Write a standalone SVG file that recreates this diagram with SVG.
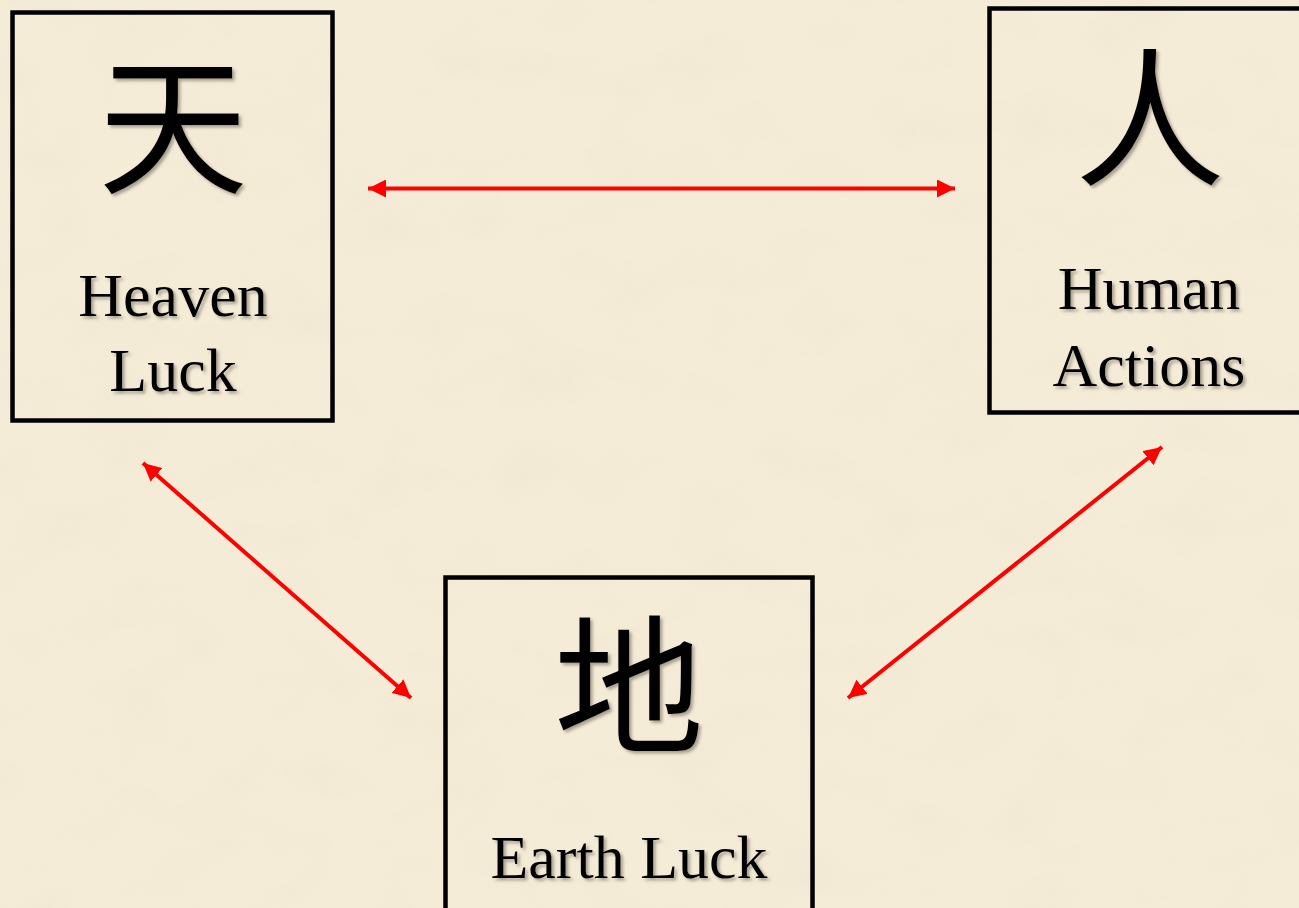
<svg xmlns="http://www.w3.org/2000/svg" width="1299" height="908" viewBox="0 0 1299 908">
  <defs>
    <filter id="paper" x="0" y="0" width="100%" height="100%">
      <feTurbulence type="fractalNoise" baseFrequency="0.012 0.02" numOctaves="4" seed="7" result="n"/>
      <feColorMatrix in="n" type="matrix" values="0 0 0 0 0.80  0 0 0 0 0.72  0 0 0 0 0.55  0 0 0 1.1 -0.45" result="c"/>
      <feComposite in="c" in2="SourceGraphic" operator="in"/>
    </filter>
    <filter id="shadow" x="-10%" y="-10%" width="130%" height="130%">
      <feDropShadow dx="2.5" dy="2.5" stdDeviation="1.5" flood-color="#6b6255" flood-opacity="0.55"/>
    </filter>
    <marker id="arrow" viewBox="0 0 18 18" refX="18" refY="9" markerWidth="18" markerHeight="18" markerUnits="userSpaceOnUse" orient="auto-start-reverse">
      <path d="M0,0 L18,9 L0,18 Z" fill="#ff0000"/>
    </marker>
    <style>
      .box { fill: none; stroke: #000; stroke-width: 4.5; }
      .cjk { font-family: "Liberation Serif", "Noto Sans CJK SC", serif; font-size: 150px; fill: #000; text-anchor: middle; filter: url(#shadow); }
      .lbl { font-family: "Liberation Serif", serif; font-size: 62px; fill: #000; text-anchor: middle; filter: url(#shadow); }
      .conn { stroke: #ff0000; stroke-width: 4; fill: none; marker-start: url(#arrow); marker-end: url(#arrow); }
    </style>
  </defs>

  <rect x="0" y="0" width="1299" height="908" fill="#f5ecd8"/>
  <rect x="0" y="0" width="1299" height="908" fill="#000" filter="url(#paper)" opacity="0.35"/>

  <g id="node-heaven">
    <rect class="box" x="12.5" y="12.5" width="320" height="408"/>
    <text class="cjk" x="173" y="182">天</text>
    <text class="lbl" x="173" y="316">Heaven</text>
    <text class="lbl" x="173" y="391">Luck</text>
  </g>

  <g id="node-human">
    <rect class="box" x="989.5" y="8.5" width="320" height="404"/>
    <text class="cjk" x="1150" y="175">人</text>
    <text class="lbl" x="1149" y="309">Human</text>
    <text class="lbl" x="1149" y="386">Actions</text>
  </g>

  <g id="node-earth">
    <rect class="box" x="445.5" y="577.5" width="367" height="345"/>
    <text class="cjk" x="629" y="742">地</text>
    <text class="lbl" x="629" y="878">Earth Luck</text>
  </g>

  <g id="connectors">
    <line class="conn" x1="368" y1="188.5" x2="955" y2="188.5"/>
    <line class="conn" x1="143" y1="463" x2="411" y2="698"/>
    <line class="conn" x1="1162" y1="447" x2="848" y2="698"/>
  </g>
</svg>
